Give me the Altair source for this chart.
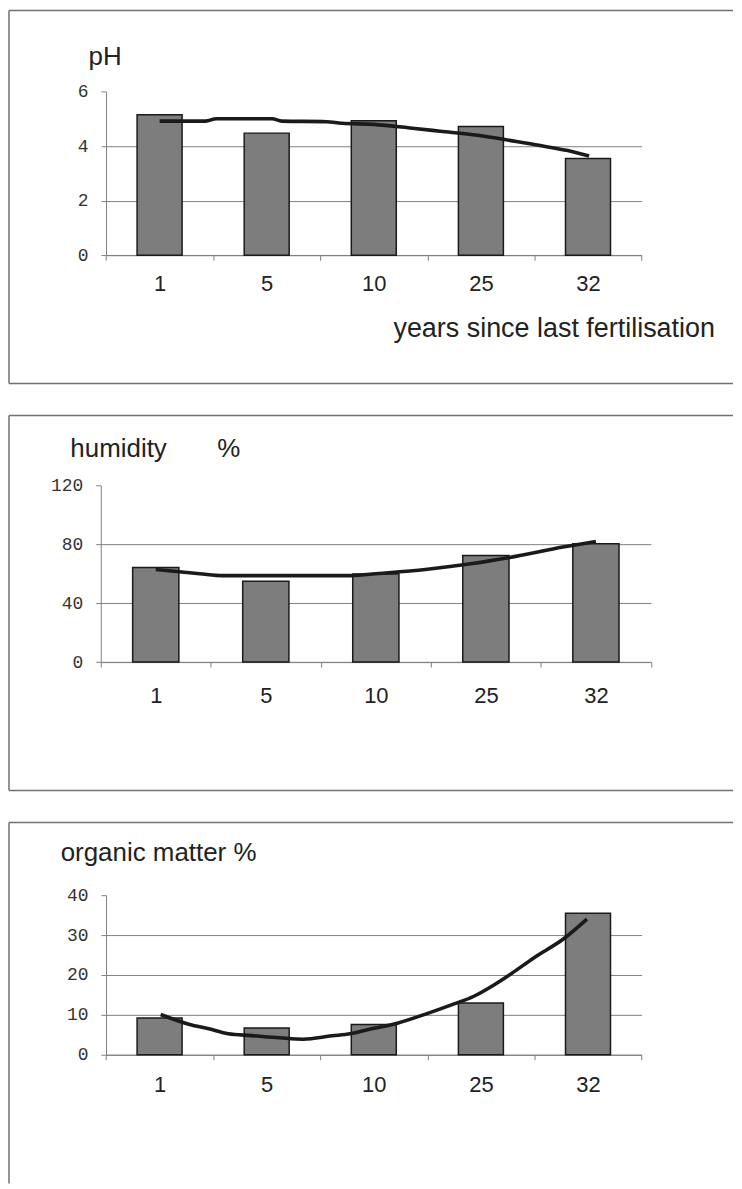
import altair as alt
import pandas as pd

# ---- data ----
years = ["1", "5", "10", "25", "32"]

ph = [5.15, 4.48, 4.93, 4.72, 3.55]
humidity = [64.4, 54.9, 59.9, 72.5, 80.5]
organic = [9.2, 6.7, 7.6, 13.0, 35.5]

# trend lines: position along the category axis (0..5, centre of first bar = 0.5) and value
ph_trend_pos = [0.5, 0.93, 1.03, 1.55, 1.64, 2.06, 2.2, 2.5, 2.86, 3.12, 3.47, 3.83, 4.09, 4.31, 4.51]
ph_trend = [4.92, 4.92, 5.01, 5.01, 4.92, 4.9, 4.84, 4.8, 4.66, 4.55, 4.4, 4.17, 4.0, 3.84, 3.64]

hum_trend_pos = [0.5, 0.9, 1.11, 2.27, 2.53, 2.95, 3.38, 3.77, 4.2, 4.5]
hum_trend = [63.0, 60.1, 58.8, 58.8, 60.3, 63.0, 67.0, 71.9, 78.2, 82.0]

org_trend_pos = [0.51, 0.78, 0.96, 1.14, 1.36, 1.62, 1.84, 2.11, 2.28, 2.46, 2.72,
                 2.99, 3.25, 3.43, 3.61, 3.78, 4.0, 4.27, 4.49]
org_trend = [10.1, 7.6, 6.5, 5.25, 4.8, 4.25, 3.9, 4.75, 5.25, 6.4, 7.9,
             10.25, 12.75, 14.6, 17.3, 20.25, 24.4, 29.0, 34.0]

# ---- styling ----
W = 726
GRAY = "#808080"
FRAME = "#707070"
SANS = "Liberation Sans, Arial, sans-serif"
MONO = "Liberation Mono, Courier New, monospace"
TEXT = "#222222"

one = pd.DataFrame({"k": [0]})


def frame(H, bottom=True):
    layers = [
        alt.Chart(one).mark_rule(color=FRAME, strokeWidth=1.5)
        .encode(x=alt.value(0), y=alt.value(0), y2=alt.value(H)),
        alt.Chart(one).mark_rule(color=FRAME, strokeWidth=1.5)
        .encode(x=alt.value(0), x2=alt.value(W), y=alt.value(0)),
    ]
    if bottom:
        layers.append(
            alt.Chart(one).mark_rule(color=FRAME, strokeWidth=1.5)
            .encode(x=alt.value(0), x2=alt.value(W), y=alt.value(H))
        )
    return layers


def panel(values, trend_pos, trend_vals, yticks, H, xr, yr, xlabel_pad,
          ytitle, ytitle_x, ytitle_y, xtitle=None, xtitle_x=0, xtitle_y=0, bottom=True):
    ymax = yticks[-1]
    bars = pd.DataFrame({"year": years, "idx": list(range(len(years))), "value": values})
    line = pd.DataFrame({"pos": trend_pos, "value": trend_vals})

    xscale = alt.Scale(domain=[0, len(years)], range=xr, nice=False, zero=False)
    yscale = alt.Scale(domain=[0, ymax], range=yr, nice=False, zero=False)
    band = (xr[1] - xr[0]) / len(years)
    label_expr = "[" + ",".join(f"'{y}'" for y in years) + ",''][datum.value]"

    xkw = dict(
        values=list(range(len(years) + 1)), labelExpr=label_expr, labelOffset=band / 2,
        labelFlush=False, labelOverlap=False, tickSize=5, labelPadding=xlabel_pad,
        offset=yr[0] - H, grid=False, domainColor=GRAY, tickColor=GRAY,
        domainWidth=1, tickWidth=1,
        labelFont=SANS, labelFontSize=22, labelColor=TEXT,
    )
    if xtitle:
        xkw.update(title=xtitle, titleX=xtitle_x, titleY=xtitle_y, titleAlign="left",
                   titleBaseline="alphabetic", titleFont=SANS, titleFontSize=27,
                   titleFontWeight="normal", titleColor=TEXT)
    else:
        xkw.update(title="")
    xaxis = alt.Axis(**xkw)

    yaxis = alt.Axis(
        values=yticks, format="d", offset=-xr[0], tickSize=5, labelPadding=13,
        labelFont=MONO, labelFontSize=18, labelColor="#333333", labelFlush=False,
        grid=True, gridColor=GRAY, gridWidth=1,
        gridOpacity={"condition": {"test": f"datum.value >= {ymax}", "value": 0}, "value": 1},
        domainColor=GRAY, tickColor=GRAY, domainWidth=1, tickWidth=1,
        title=ytitle, titleAngle=0, titleX=ytitle_x, titleY=ytitle_y,
        titleAlign="left", titleBaseline="alphabetic", titleFont=SANS,
        titleFontSize=26, titleFontWeight="normal", titleColor=TEXT,
    )

    bar_layer = (
        alt.Chart(bars)
        .transform_calculate(x0="datum.idx + 0.5 - 0.21", x1="datum.idx + 0.5 + 0.21")
        .mark_rect(fill="#7d7d7d", stroke="#1a1a1a", strokeWidth=1.5)
        .encode(
            x=alt.X("x0:Q", scale=xscale, axis=xaxis),
            x2="x1:Q",
            y=alt.Y("value:Q", scale=yscale, axis=yaxis),
            y2=alt.datum(0),
        )
    )
    line_layer = (
        alt.Chart(line)
        .mark_line(color="#1a1a1a", strokeWidth=3.6, interpolate="monotone")
        .encode(
            x=alt.X("pos:Q", scale=xscale),
            y=alt.Y("value:Q", scale=yscale),
        )
    )
    return alt.layer(bar_layer, line_layer, *frame(H, bottom)).properties(width=W, height=H)


p1 = panel(ph, ph_trend_pos, ph_trend, [0, 2, 4, 6], 374,
           [97.3, 634.3], [245.3, 81.3], 13,
           "pH", -18, 54.5,
           xtitle="years since last fertilisation", xtitle_x=385, xtitle_y=81.7)
p2 = panel(humidity, hum_trend_pos, hum_trend, [0, 40, 80, 120], 376,
           [92.0, 643.7], [247.3, 70.3], 18,
           "humidity" + "\u00a0" * 7 + "%", -31, 41)
p3 = panel(organic, org_trend_pos, org_trend, [0, 10, 20, 30, 40], 362,
           [97.3, 634.3], [233.0, 73.0], 15,
           "organic matter %", -46, 38.7, bottom=False)

chart = (
    alt.vconcat(p1, p2, p3, spacing=30)
    .properties(padding=0, background="white")
    .configure_view(stroke=None)
)

chart.save("out.html", embed_options={"renderer": "svg", "actions": False})
